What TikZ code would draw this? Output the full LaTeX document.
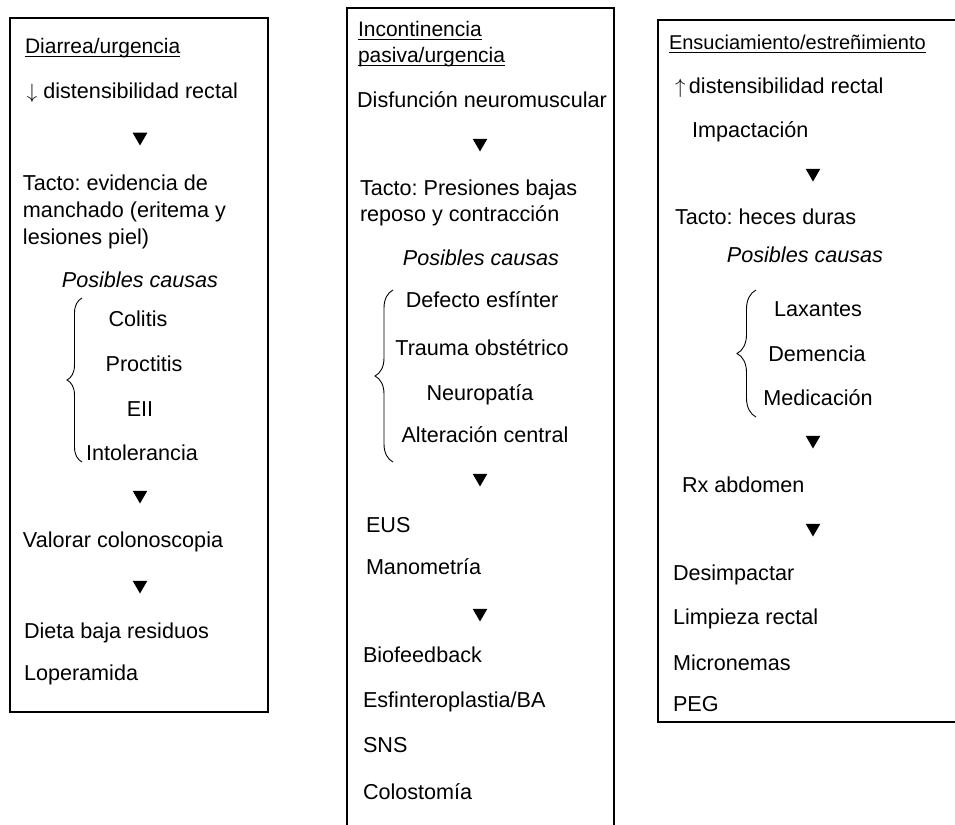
\documentclass[tikz,border=0pt]{standalone}
\usepackage{fontspec}
\setmainfont{Liberation Sans}
\frenchspacing
\usetikzlibrary{shapes.geometric,decorations.pathreplacing}
\begin{document}
\begin{tikzpicture}[x=1pt,y=-1pt,
  every node/.style={inner sep=0pt,outer sep=0pt,font=\fontsize{21.6}{26}\selectfont},
  txt/.style={anchor=base west},
  ctr/.style={anchor=base},
  hd/.style={anchor=base west,font=\fontsize{21}{25}\selectfont},
  tri/.style={regular polygon,regular polygon sides=3,shape border rotate=180,fill=black,draw=none,minimum size=17pt},
  boxline/.style={line width=1.2pt},
  brc/.style={line width=0.9pt,decorate,decoration={brace,amplitude=#1}},
  uline/.style={line width=0.9pt}]
\useasboundingbox (0,0) rectangle (955,824);
\fill[white] (0,0) rectangle (955,824);

% boxes
\draw[boxline] (10,18) rectangle (268,712);
\draw[boxline] (347,826) -- (347,8) -- (614,8) -- (614,826);
\draw[boxline] (957,20) -- (658,20) -- (658,722) -- (957,722);

% ---------- left column ----------
\node[hd] (h1) at (25,54) {Diarrea/urgencia};
\draw[uline] ([yshift=-2.5pt]h1.base west) -- ([yshift=-2.5pt]h1.base east);
\node[txt] (l1) at (27,99) {$\downarrow$ distensibilidad rectal};
\node[tri] (t1) at (140,137) {};
\node[txt] (l2) at (23,190) {Tacto: evidencia de};
\node[txt] (l3) at (23,217) {manchado (eritema y};
\node[txt] (l4) at (23,244) {lesiones piel)};
\node[ctr] (l5) at (140,287) {\itshape Posibles causas};
\draw[brc=15pt] (82,462) -- (82,298);
\node[ctr] (c1) at (138,326) {Colitis};
\node[ctr] (c2) at (144,371) {Proctitis};
\node[ctr] (c3) at (140,416) {EII};
\node[ctr] (c4) at (142,460) {Intolerancia};
\node[tri] (t2) at (140,495) {};
\node[txt] (l6) at (23,547) {Valorar colonoscopia};
\node[tri] (t3) at (140,585) {};
\node[txt] (l7) at (24,638) {Dieta baja residuos};
\node[txt] (l8) at (24,680) {Loperamida};

% ---------- middle column ----------
\node[hd] (h2a) at (358,37) {Incontinencia};
\draw[uline] ([yshift=-2.5pt]h2a.base west) -- ([yshift=-2.5pt]h2a.base east);
\node[hd] (h2b) at (358,63) {pasiva/urgencia};
\draw[uline] ([yshift=-2.5pt]h2b.base west) -- ([yshift=-2.5pt]h2b.base east);
\node[ctr] (m1) at (482,108) {Disfunción neuromuscular};
\node[tri] (t4) at (480,143) {};
\node[txt] (m2) at (360,195) {Tacto: Presiones bajas};
\node[txt] (m3) at (360,221) {reposo y contracción};
\node[ctr] (m4) at (481,265) {\itshape Posibles causas};
\draw[brc=18pt] (393,462) -- (393,290);
\node[ctr] (d1) at (482,307) {Defecto esfínter};
\node[ctr] (d2) at (482,355) {Trauma obstétrico};
\node[ctr] (d3) at (480,400) {Neuropatía};
\node[ctr] (d4) at (485,442) {Alteración central};
\node[tri] (t5) at (480,478) {};
\node[txt] (m5) at (366,532) {EUS};
\node[txt] (m6) at (366,574) {Manometría};
\node[tri] (t6) at (480,613) {};
\node[txt] (m7) at (363,662) {Biofeedback};
\node[txt] (m8) at (363,707) {Esfinteroplastia/BA};
\node[txt] (m9) at (363,752) {SNS};
\node[txt] (m10) at (363,799) {Colostomía};

% ---------- right column ----------
\node[hd,font=\fontsize{20}{24}\selectfont] (h3) at (669,50) {Ensuciamiento/estreñimiento};
\draw[uline] ([yshift=-2.5pt]h3.base west) -- ([yshift=-2.5pt]h3.base east);
\node[txt] (r1) at (675,94) {$\uparrow$\,distensibilidad rectal};
\node[txt] (r2) at (692,137) {Impactación};
\node[tri] (t7) at (813,173) {};
\node[txt] (r3) at (675,224) {Tacto: heces duras};
\node[ctr] (r4) at (805,262) {\itshape Posibles causas};
\draw[brc=19pt] (756,417) -- (756,290);
\node[ctr] (e1) at (818,316) {Laxantes};
\node[ctr] (e2) at (817,361) {Demencia};
\node[ctr] (e3) at (818,405) {Medicación};
\node[tri] (t8) at (813,440) {};
\node[txt] (r5) at (682,492) {Rx abdomen};
\node[tri] (t9) at (813,528) {};
\node[txt] (r6) at (673,580) {Desimpactar};
\node[txt] (r7) at (673,624) {Limpieza rectal};
\node[txt] (r8) at (673,670) {Micronemas};
\node[txt] (r9) at (673,711) {PEG};
\end{tikzpicture}
\end{document}
